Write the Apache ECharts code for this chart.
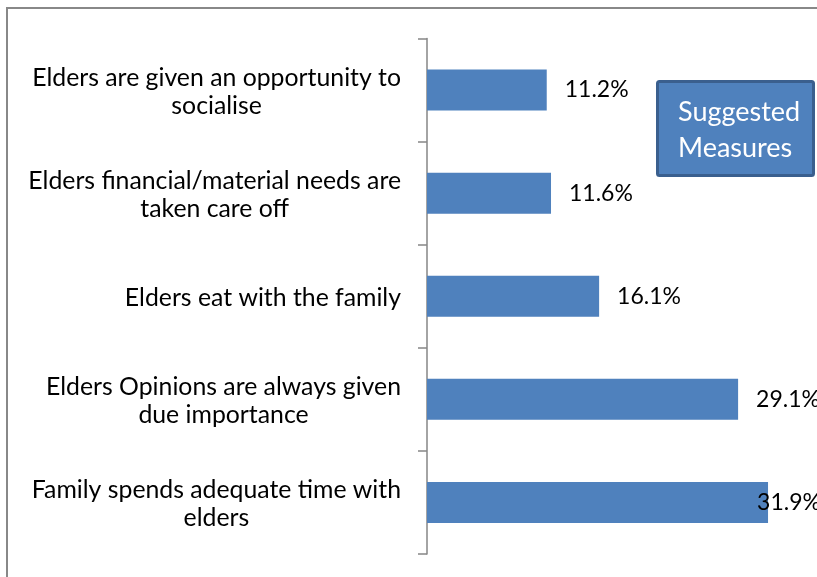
<!DOCTYPE html>
<html>
<head>
<meta charset="utf-8">
<script src="https://cdn.jsdelivr.net/npm/echarts@6/dist/echarts.min.js"></script>
<style>
html,body{margin:0;padding:0;background:#fff;overflow:hidden;}
#chart{width:817px;height:577px;}
</style>
</head>
<body>
<div id="chart"></div>
<script>
// Categories (top to bottom), with Excel-style line breaks
const categories = [
  "Elders are given an opportunity to\nsocialise",
  "Elders financial/material needs are\ntaken care off",
  "Elders eat with the family",
  "Elders Opinions are always given\ndue importance",
  "Family spends adequate time with\nelders"
];
const values = [11.2, 11.6, 16.1, 29.1, 31.9];
const boxLines = ["Suggested", "Measures"];

const FONT = "Lato";
const chart = echarts.init(document.getElementById('chart'));

const seriesData = values.map((v, i) => {
  const d = { value: v };
  if (i === values.length - 1) d.label = { offset: [-29, 0] };
  return d;
});

chart.setOption({
  animation: false,
  backgroundColor: '#ffffff',
  grid: { left: 427, top: 38.5, right: 0, bottom: 23, containLabel: false },
  xAxis: {
    type: 'value', min: 0, max: 36.48,
    show: false
  },
  yAxis: {
    type: 'category',
    inverse: true,
    data: categories,
    axisLine: { show: true, lineStyle: { color: '#868686', width: 1.5 } },
    axisTick: { show: true, length: 9, lineStyle: { color: '#868686', width: 1.5 } },
    splitLine: { show: false },
    axisLabel: {
      margin: 26,
      align: 'right',
      padding: [3, 0, 0, 0],
      formatter: function (val) {
        return val.split('\n').map(l => '{c|' + l + '}').join('\n');
      },
      rich: {
        c: { align: 'center', fontFamily: FONT, fontSize: 24.8, color: '#000', lineHeight: 28 }
      }
    }
  },
  series: [{
    type: 'bar',
    data: seriesData,
    barWidth: 41,
    itemStyle: { color: '#4F81BD' },
    label: {
      show: true,
      position: 'right',
      distance: 18,
      formatter: p => p.value.toFixed(1) + '%',
      fontFamily: FONT, fontSize: 23, color: '#000'
    }
  }],
  graphic: [
    {
      type: 'line', silent: true,
      shape: { x1: 7, y1: 8, x2: 7, y2: 577 },
      style: { stroke: '#888888', lineWidth: 2 }
    },
    {
      type: 'line', silent: true,
      shape: { x1: 6, y1: 8, x2: 817, y2: 8 },
      style: { stroke: '#888888', lineWidth: 2 }
    },
    {
      type: 'rect', silent: true,
      shape: { x: 657.5, y: 81.5, width: 156, height: 94, r: 2 },
      style: { fill: '#4F81BD', stroke: '#3A5F8E', lineWidth: 3 }
    },
    {
      type: 'text', silent: true,
      left: 678, top: 94,
      style: {
        text: boxLines.join('\n'),
        fill: '#ffffff', fontFamily: FONT, fontSize: 27, lineHeight: 36.5
      }
    }
  ]
});
</script>
</body>
</html>
